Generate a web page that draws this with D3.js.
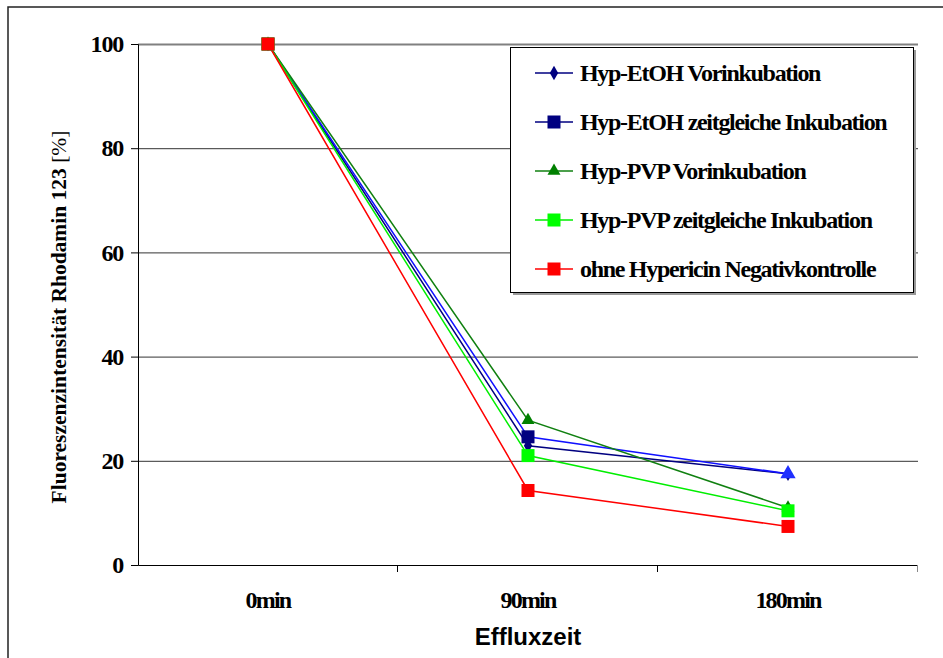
<!DOCTYPE html>
<html>
<head>
<meta charset="utf-8">
<script src="https://cdn.jsdelivr.net/npm/d3@7"></script>
<style>
  body { margin: 0; background: #fff; }
  svg { display: block; }
</style>
</head>
<body>
<div id="vis"></div>
<script>
// chart data
const CATEGORIES = ["0min", "90min", "180min"];
const Y_TICKS = [0, 20, 40, 60, 80, 100];
const SERIES_NAMES = [
  "Hyp-EtOH Vorinkubation",
  "Hyp-EtOH zeitgleiche Inkubation",
  "Hyp-PVP Vorinkubation",
  "Hyp-PVP zeitgleiche Inkubation",
  "ohne Hypericin Negativkontrolle"
];
const ETOH_VOR = [100, 22.9, 17.5];
const ETOH_ZEIT = [100, 24.6, 17.5];
const PVP_VOR = [100, 27.8, 11.0];
const PVP_ZEIT = [100, 21.0, 10.4];
const NEGATIV = [100, 14.3, 7.4];

const SERIF = "'Liberation Serif', 'Times New Roman', serif";
const SANS = "'Liberation Sans', Arial, sans-serif";

const FRAME_WIDTH = 943;
const FRAME_HEIGHT = 658;
const MARGINS = {left: 138, right: 25, top: 44, bottom: 93};
const VIS_WIDTH = FRAME_WIDTH - MARGINS.left - MARGINS.right;
const VIS_HEIGHT = FRAME_HEIGHT - MARGINS.top - MARGINS.bottom;

const series = [
  {name: SERIES_NAMES[0], values: ETOH_VOR, color: "#000080", line: "#000080", marker: "diamond"},
  {name: SERIES_NAMES[1], values: ETOH_ZEIT, color: "#000080", line: "#1010ff", marker: "square"},
  {name: SERIES_NAMES[2], values: PVP_VOR, color: "#008000", line: "#108010", marker: "triangle"},
  {name: SERIES_NAMES[3], values: PVP_ZEIT, color: "#00ff00", line: "#00ee00", marker: "square"},
  {name: SERIES_NAMES[4], values: NEGATIV, color: "#ff0000", line: "#ff0000", marker: "square"}
];

const FRAME = d3.select("#vis")
  .append("svg")
  .attr("width", FRAME_WIDTH)
  .attr("height", FRAME_HEIGHT);

// outer chart border
FRAME.append("rect")
  .attr("x", 8).attr("y", 7)
  .attr("width", FRAME_WIDTH + 10).attr("height", FRAME_HEIGHT + 10)
  .attr("fill", "none")
  .attr("stroke", "#222")
  .attr("stroke-width", 1.5);

const X_SCALE = d3.scaleBand().domain(CATEGORIES).range([0, VIS_WIDTH]);
const Y_SCALE = d3.scaleLinear().domain([0, 100]).range([VIS_HEIGHT, 0]);

const G = FRAME.append("g")
  .attr("transform", "translate(" + MARGINS.left + "," + MARGINS.top + ")");

// gridlines
G.append("g")
  .selectAll("line")
  .data(Y_TICKS.filter(d => d > 0))
  .enter()
  .append("line")
  .attr("x1", 0).attr("x2", VIS_WIDTH)
  .attr("y1", d => Y_SCALE(d) + 0.5).attr("y2", d => Y_SCALE(d) + 0.5)
  .attr("stroke", d => d === 100 ? "#808080" : "#333")
  .attr("stroke-width", d => d === 100 ? 2 : 1);

// y axis
const yAxis = G.append("g")
  .call(d3.axisLeft(Y_SCALE).tickValues(Y_TICKS).tickSize(7).tickPadding(8));
yAxis.select(".domain").attr("stroke", "#000");
yAxis.selectAll("text")
  .attr("font-family", SERIF)
  .attr("font-weight", "bold")
  .attr("font-size", "24px")
  .attr("letter-spacing", "-1.2px")
  .attr("fill", "#000");

// x axis
const xAxis = G.append("g")
  .attr("transform", "translate(0," + VIS_HEIGHT + ")")
  .call(d3.axisBottom(X_SCALE).tickSize(0).tickPadding(26));
xAxis.select(".domain").attr("stroke", "#000").attr("d", "M0.5,0.5H" + VIS_WIDTH);
xAxis.selectAll("text")
  .attr("font-family", SERIF)
  .attr("font-weight", "bold")
  .attr("font-size", "24px")
  .attr("letter-spacing", "-1.8px")
  .attr("fill", "#000");
xAxis.selectAll(".sep")
  .data(CATEGORIES)
  .enter()
  .append("line")
  .attr("x1", d => X_SCALE(d) + X_SCALE.bandwidth() - 0.5)
  .attr("x2", d => X_SCALE(d) + X_SCALE.bandwidth() - 0.5)
  .attr("y1", 0).attr("y2", 7)
  .attr("stroke", (d, i) => i === CATEGORIES.length - 1 ? "#888" : "#000");

// axis titles
FRAME.append("text")
  .attr("x", MARGINS.left + X_SCALE("90min") + X_SCALE.bandwidth() / 2)
  .attr("y", 645)
  .attr("text-anchor", "middle")
  .attr("font-family", SANS)
  .attr("font-weight", "bold")
  .attr("font-size", "24px")
  .text("Effluxzeit");

FRAME.append("text")
  .attr("transform", "translate(66," + (MARGINS.top + 273) + ") rotate(-90)")
  .attr("text-anchor", "middle")
  .attr("font-family", SERIF)
  .attr("font-weight", "bold")
  .attr("font-size", "21.5px")
  .html("Fluoreszenzintensität Rhodamin 123 <tspan font-weight='normal'>[%]</tspan>");

const xPos = (i) => X_SCALE(CATEGORIES[i]) + X_SCALE.bandwidth() / 2;
const line = d3.line().x((d, i) => xPos(i)).y(d => Y_SCALE(d));

function drawMarker(sel, type, color, size) {
  if (type === "square") {
    sel.append("rect")
      .attr("x", -size / 2).attr("y", -size / 2)
      .attr("width", size).attr("height", size)
      .attr("fill", color);
  } else if (type === "diamond") {
    sel.append("path")
      .attr("d", d3.symbol().type(d3.symbolDiamond).size(size * size * 0.5)())
      .attr("fill", color);
  } else {
    sel.append("path")
      .attr("d", d3.symbol().type(d3.symbolTriangle).size(size * size * 0.6)())
      .attr("fill", color);
  }
}

// lines
series.forEach(s => {
  G.append("path")
    .datum(s.values)
    .attr("d", line)
    .attr("fill", "none")
    .attr("stroke", s.line)
    .attr("stroke-width", 1.5);
});

// markers
series.forEach((s, si) => {
  s.values.forEach((v, i) => {
    const m = G.append("g")
      .attr("transform", "translate(" + xPos(i) + "," + Y_SCALE(v) + ")");
    // Excel drew the last EtOH point as a blue triangle
    if (si === 1 && i === CATEGORIES.length - 1) {
      drawMarker(m, "triangle", "#2030ff", 13);
    } else {
      drawMarker(m, s.marker, s.color, s.marker === "square" ? 13 : 11);
    }
  });
});

// legend
const LEG = FRAME.append("g").attr("transform", "translate(510,47)");
LEG.append("rect")
  .attr("x", 3).attr("y", 3).attr("width", 403).attr("height", 245)
  .attr("fill", "#999");
LEG.append("rect")
  .attr("x", 0.5).attr("y", 0.5).attr("width", 403).attr("height", 245)
  .attr("fill", "#fff").attr("stroke", "#000");

series.forEach((s, i) => {
  const row = LEG.append("g").attr("transform", "translate(0," + (26 + i * 49) + ")");
  row.append("line")
    .attr("x1", 25).attr("x2", 63)
    .attr("stroke", s.line === "#1010ff" ? s.color : s.line)
    .attr("stroke-width", 1.5);
  const m = row.append("g").attr("transform", "translate(44,0)");
  drawMarker(m, s.marker, s.color, s.marker === "square" ? 13 : 11);
  row.append("text")
    .attr("x", 70).attr("y", 8)
    .attr("font-family", SERIF)
    .attr("font-weight", "bold")
    .attr("font-size", "24px")
    .attr("letter-spacing", "-1.3px")
    .text(s.name);
});
</script>
</body>
</html>
